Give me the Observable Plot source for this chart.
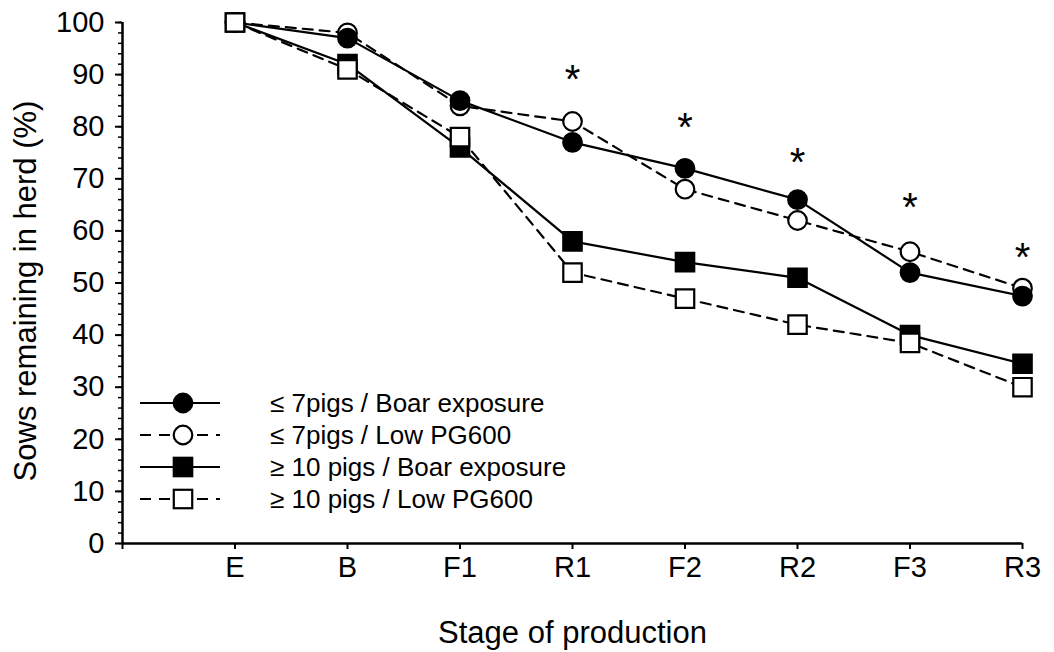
<!DOCTYPE html>
<html><head><meta charset="utf-8">
<script src="https://cdn.jsdelivr.net/npm/d3@7"></script>
<script src="https://cdn.jsdelivr.net/npm/@observablehq/plot@0.6"></script>
<style>
body{margin:0;background:#fff;}
#wrap{position:relative;width:1054px;height:652px;font-family:"Liberation Sans",Arial,sans-serif;}
#legend{position:absolute;left:0;top:0;pointer-events:none;}
</style></head><body><div id="wrap"></div>
<script>
// ---- data ----
const stages = ["E","B","F1","R1","F2","R2","F3","R3"];
const lowBoar  = [100, 97, 85, 77, 72, 66, 52, 47.5];
const lowPG    = [100, 98, 84, 81, 68, 62, 56, 49];
const highBoar = [100, 92, 76, 58, 54, 51, 40, 34.5];
const highPG   = [100, 91, 78, 52, 47, 42, 38.5, 30];
const seriesNames = ["≤ 7pigs / Boar exposure", "≤ 7pigs / Low PG600", "≥ 10 pigs / Boar exposure", "≥ 10 pigs / Low PG600"];
const sigStages = ["R1","F2","R2","F3","R3"];
const sigY = [89.8, 80.7, 74, 65.3, 55.7];
const yMajor = d3.range(0, 101, 10);
const yMinor = d3.range(0, 101, 2);
const xTitle = "Stage of production";
const yTitle = "Sows remaining in herd (%)";

// ---- styles per series ----
const styles = [
  {symbol: "circle", fill: "black", dash: null, r: 9.3},
  {symbol: "circle", fill: "white", dash: "10,7", r: 9.3},
  {symbol: "square", fill: "black", dash: null, r: 10.4},
  {symbol: "square", fill: "white", dash: "10,7", r: 10.4}
];
const seriesValues = [lowBoar, lowPG, highBoar, highPG];
const tables = seriesValues.map((vals, s) => vals.map((v, i) => ({series: seriesNames[s], stage: stages[i], xi: i + 1, value: v})));
const sig = sigStages.map((st, i) => ({xi: stages.indexOf(st) + 1, y: sigY[i]}));

const font = '"Liberation Sans", Arial, sans-serif';
const marks = [
  Plot.axisY(yMinor, {tickSize: 4, tickFormat: () => "", label: null, strokeWidth: 1.5}),
  Plot.axisY(yMajor, {tickSize: 7, tickPadding: 11, fontSize: 29, strokeWidth: 2, label: null}),
  Plot.axisX(d3.range(0, 9), {tickSize: 6, tickPadding: 7, fontSize: 29, strokeWidth: 2,
    tickFormat: i => i === 0 ? "" : stages[i - 1], label: null}),
  Plot.text([xTitle], {text: d => d, frameAnchor: "bottom", lineAnchor: "middle", textAnchor: "middle", dy: 90, fontSize: 31, fill: "black"}),
  Plot.text([yTitle], {text: d => d, frameAnchor: "left", lineAnchor: "middle", textAnchor: "middle", rotate: -90, dx: -96, dy: 8, fontSize: 31, fill: "black"}),
  Plot.ruleY([0], {strokeWidth: 2.5}),
  Plot.ruleX([0], {strokeWidth: 2.5})
];
tables.forEach((t, s) => {
  marks.push(Plot.line(t, {x: "xi", y: "value", stroke: "black", strokeWidth: 2.2, strokeDasharray: styles[s].dash}));
});
[1, 0, 2, 3].forEach(s => {
  marks.push(Plot.dot(tables[s], {x: "xi", y: "value", symbol: styles[s].symbol, r: styles[s].r,
    fill: styles[s].fill, stroke: "black", strokeWidth: 2.2}));
});
marks.push(Plot.text(sig, {x: "xi", y: "y", text: () => "*", fontSize: 40, dy: 5, fill: "black"}));

const chart = Plot.plot({
  width: 1054, height: 652,
  marginLeft: 122, marginRight: 32, marginTop: 22, marginBottom: 109,
  style: {fontFamily: font, color: "black", background: "white", overflow: "visible"},
  x: {type: "linear", domain: [0, 8]},
  y: {domain: [0, 100]},
  marks
});
const wrap = document.getElementById("wrap");
wrap.appendChild(chart);

// ---- legend overlay ----
const leg = d3.select(wrap).append("svg").attr("id", "legend").attr("width", 1054).attr("height", 652);
const rowY0 = 403, rowStep = 32;
seriesNames.forEach((name, s) => {
  const y = rowY0 + s * rowStep;
  const st = styles[s];
  leg.append("line").attr("x1", 140).attr("x2", 220).attr("y1", y).attr("y2", y)
    .attr("stroke", "black").attr("stroke-width", 2.2).attr("stroke-dasharray", st.dash ? "11,8" : null);
  if (st.symbol === "circle") {
    leg.append("circle").attr("cx", 183).attr("cy", y).attr("r", st.r).attr("fill", st.fill).attr("stroke", "black").attr("stroke-width", 2.2);
  } else {
    const side = st.r * Math.sqrt(Math.PI);
    leg.append("rect").attr("x", 183 - side / 2).attr("y", y - side / 2).attr("width", side).attr("height", side)
      .attr("fill", st.fill).attr("stroke", "black").attr("stroke-width", 2.2);
  }
  leg.append("text").attr("x", 270).attr("y", y).attr("dy", "0.35em").attr("font-size", 26)
    .attr("font-family", font).attr("fill", "black").text(name);
});
</script></body></html>
